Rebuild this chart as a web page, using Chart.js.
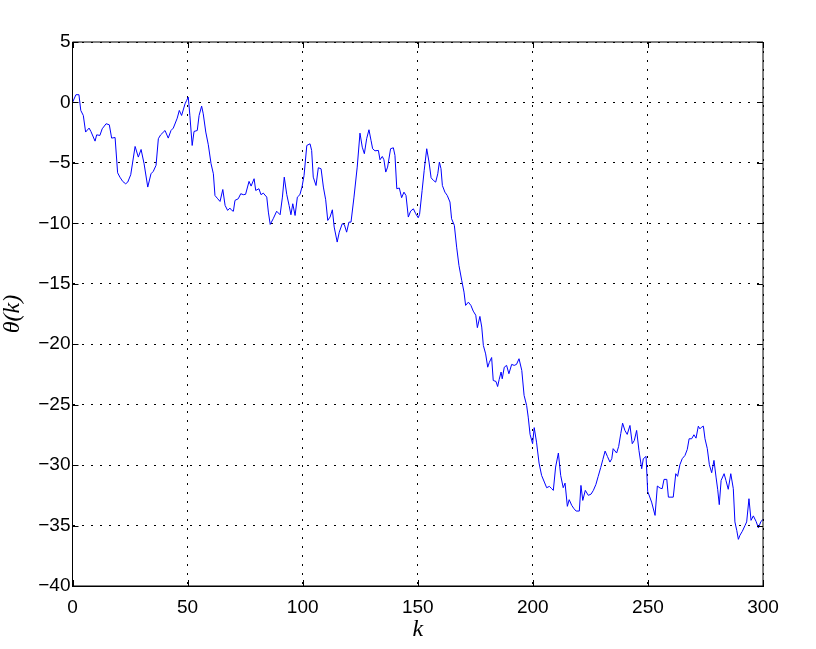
<!DOCTYPE html>
<html>
<head>
<meta charset="utf-8">
<script src="https://cdn.jsdelivr.net/npm/chart.js@4/dist/chart.umd.min.js"></script>
<style>
html,body{margin:0;padding:0;background:#fff;}
#wrap{width:816px;height:649px;position:relative;}
</style>
</head>
<body>
<div id="wrap"><canvas id="c" width="816" height="649"></canvas></div>
<script>
// k values (x axis)
const kValues = [
0,1.5,2.8,3.6,4.7,5.7,7.2,8.0,9.8,10.5,11.9,12.9,14.6,16.0,17.0,18.5,19.6,20.6,21.8,23.1,24.0,25.3,27.2,28.6,29.8,31.1,32.7,34.1,35.1,36.3,37.3,38.3,40.2,41.6,42.8,43.8,45.5,46.4,47.4,48.9,
49.6,50.3,51.0,52.0,52.8,54.2,55.0,56.1,56.8,57.9,59.0,60.2,61.2,61.9,63.1,64.1,65.3,66.3,67.4,68.4,69.2,69.9,70.6,72.0,73.1,74.2,75.2,76.7,77.6,78.9,79.6,81.0,81.9,82.9,84.4,85.1,85.9,87.2,88.7,90.2,91.2,92.0,93.1,94.1,94.9,95.7,96.7,97.7,98.8,99.7,
100.6,101.8,103.2,103.9,104.6,105.8,106.8,108.0,109.0,110.0,110.9,111.9,112.9,113.7,115.0,115.9,117.2,118.1,119.1,120.1,121.0,122.3,123.7,124.9,125.9,126.8,127.8,128.8,129.7,130.4,131.4,132.9,133.6,134.6,135.3,136.1,136.9,138.2,139.4,140.1,140.9,142.0,143.0,144.0,144.9,145.9,146.9,148.1,149.1,150.2,
150.8,151.9,152.8,153.9,154.9,155.8,156.8,157.8,158.7,159.4,160.1,160.7,161.8,162.8,164.0,164.7,165.9,166.9,167.9,169.1,170.1,170.8,172.0,173.1,174.1,175.2,175.9,177.0,177.8,178.5,179.5,180.4,181.1,182.1,182.8,184.0,184.7,185.4,186.2,186.7,187.6,188.6,189.6,190.8,191.9,192.9,194.0,195.2,196.2,197.3,198.0,198.8,
199.9,200.6,201.6,202.7,203.8,205.0,206.0,207.2,208.2,208.9,209.9,211.1,212.1,213.2,214.0,215.0,215.8,216.9,217.9,218.8,220.2,220.9,221.7,222.8,224.1,225.3,226.3,227.4,228.4,229.5,230.4,231.4,232.4,233.5,234.3,234.9,236.4,237.3,238.2,239.0,240.0,241.0,242.2,243.2,244.1,245.1,246.1,247.3,248.0,249.2,
249.9,251.6,253.1,254.1,255.3,256.2,257.0,258.2,258.9,260.0,261.0,262.1,262.9,263.9,264.9,266.1,267.1,267.9,269.0,270.0,270.9,271.9,272.6,273.3,274.1,274.8,275.8,276.7,277.7,278.7,279.6,280.3,281.0,281.8,283.1,283.9,284.9,286.0,287.1,287.8,288.6,289.3,290.0,291.0,292.2,292.9,293.9,294.8,295.8,297.0,298.0,299.1,300
];
// theta(k) values
const thetaValues = [
0.0,0.64,0.64,-0.66,-1.08,-2.45,-2.12,-2.4,-3.2,-2.68,-2.73,-2.18,-1.76,-1.85,-2.95,-2.9,-5.82,-6.18,-6.53,-6.73,-6.59,-5.98,-3.64,-4.52,-3.89,-5.07,-7.0,-5.9,-5.7,-5.2,-3.0,-2.68,-2.32,-2.95,-2.32,-2.12,-1.3,-0.66,-1.08,-0.11,
0.17,0.44,-1.08,-3.56,-2.4,-2.32,-1.08,-0.3,-0.94,-2.45,-3.5,-5.07,-5.9,-7.7,-7.97,-8.19,-7.2,-8.52,-8.93,-8.74,-8.93,-9.0,-8.1,-7.97,-7.55,-7.63,-7.6,-6.53,-6.92,-6.31,-7.28,-7.14,-7.63,-7.5,-7.83,-9.07,-10.09,-9.62,-9.0,-9.29,-7.83,-6.18,-7.63,-8.52,-9.29,-8.38,-9.35,-7.83,-7.63,-7.0,
-6.04,-3.56,-3.42,-3.97,-6.18,-6.87,-5.4,-5.49,-7.0,-8.05,-9.76,-9.48,-8.88,-10.31,-11.55,-10.73,-10.03,-10.1,-10.73,-9.9,-9.9,-7.83,-5.35,-2.54,-3.7,-4.24,-3.0,-2.26,-3.14,-3.83,-4.0,-3.97,-4.74,-4.47,-4.74,-5.76,-5.35,-3.83,-3.75,-4.38,-7.14,-7.08,-7.88,-7.42,-7.7,-9.48,-8.99,-8.8,-9.2,-9.54,
-9.26,-7.28,-5.62,-3.83,-4.93,-6.23,-6.45,-6.59,-5.9,-4.93,-5.48,-6.87,-7.42,-7.69,-8.24,-9.62,-10.17,-11.97,-13.48,-14.72,-15.69,-16.79,-16.52,-16.79,-17.26,-17.6,-18.63,-17.7,-18.58,-20.1,-20.8,-21.9,-21.5,-21.1,-23.0,-23.08,-23.5,-22.9,-22.3,-22.86,-21.9,-21.75,-22.44,-21.67,-21.75,-21.67,-21.2,-22.17,-24.23,-25.06,-26.03,-27.46,
-28.23,-26.9,-28.1,-29.83,-30.85,-31.4,-31.87,-31.76,-31.95,-32.09,-30.16,-29.0,-30.85,-31.87,-31.49,-33.41,-32.86,-33.33,-33.61,-33.8,-33.8,-31.68,-32.92,-32.09,-32.5,-32.4,-32.09,-31.6,-30.93,-30.2,-29.55,-28.84,-29.28,-29.75,-29.47,-28.64,-29.0,-28.45,-27.4,-26.53,-27.13,-27.46,-26.72,-28.23,-27.96,-27.13,-28.78,-30.3,-29.47,-29.28,
-32.17,-33.06,-34.16,-31.73,-31.9,-31.95,-31.18,-31.18,-32.65,-32.65,-32.65,-30.71,-30.93,-29.97,-29.47,-29.2,-28.7,-27.82,-27.82,-27.49,-27.77,-26.78,-27.0,-26.86,-26.78,-27.82,-28.64,-29.97,-30.63,-29.61,-30.99,-32.0,-33.27,-31.27,-30.71,-31.27,-32.0,-30.71,-31.95,-34.7,-35.4,-36.14,-35.8,-35.48,-34.99,-34.7,-32.78,-34.57,-34.2,-34.66,-35.2,-34.66,-34.5
];
// tick labels
const xTicks = [0,50,100,150,200,250,300];
const yTicks = [5,0,-5,-10,-15,-20,-25,-30,-35,-40];
const xTitle = 'k';
const yTitle = 'θ(k)';

const fmt = v => (v < 0 ? '\u2212' + Math.abs(v) : String(v));

const boxAndTicks = {
  id: 'boxAndTicks',
  afterDraw(chart) {
    const {ctx, chartArea: a, scales: {x, y}} = chart;
    ctx.save();
    ctx.strokeStyle = '#000';
    ctx.lineWidth = 1;
    ctx.setLineDash([]);
    ctx.beginPath();
    ctx.rect(a.left, a.top, a.right - a.left, a.bottom - a.top);
    const tl = 6;
    xTicks.forEach(v => {
      const px = Math.round(x.getPixelForValue(v)) + 0.5;
      ctx.moveTo(px, a.bottom); ctx.lineTo(px, a.bottom - tl);
      ctx.moveTo(px, a.top); ctx.lineTo(px, a.top + tl);
    });
    yTicks.forEach(v => {
      const py = Math.round(y.getPixelForValue(v)) + 0.5;
      ctx.moveTo(a.left, py); ctx.lineTo(a.left + tl, py);
      ctx.moveTo(a.right, py); ctx.lineTo(a.right - tl, py);
    });
    ctx.stroke();
    ctx.restore();
  }
};

new Chart(document.getElementById('c'), {
  type: 'line',
  data: {
    datasets: [{
      data: kValues.map((k, i) => ({x: k, y: thetaValues[i]})),
      borderColor: '#0000ff',
      borderWidth: 1,
      pointRadius: 0,
      tension: 0,
      fill: false
    }]
  },
  plugins: [boxAndTicks],
  options: {
    responsive: false,
    animation: false,
    events: [],
    layout: {padding: {left: 0, top: 42, right: 53, bottom: 0}},
    plugins: {legend: {display: false}, tooltip: {enabled: false}},
    scales: {
      x: {
        type: 'linear', min: 0, max: 300,
        afterBuildTicks: s => { s.ticks = xTicks.map(v => ({value: v})); },
        afterFit: s => { s.height = 63; },
        ticks: {callback: v => fmt(v), color: '#000', padding: 10, maxRotation: 0,
                font: {family: 'Liberation Sans', size: 19}},
        grid: {color: '#000', lineWidth: 1, drawTicks: false},
        border: {display: true, color: '#000', width: 1, dash: [2, 7]},
        title: {display: true, text: xTitle, color: '#000',
                font: {family: 'Liberation Serif', size: 24, style: 'italic'},
                padding: {top: 0, bottom: 5}}
      },
      y: {
        type: 'linear', min: -40, max: 5,
        afterBuildTicks: s => { s.ticks = yTicks.map(v => ({value: v})); },
        afterFit: s => { s.width = 72.5; },
        ticks: {callback: v => fmt(v), color: '#000', padding: 2,
                font: {family: 'Liberation Sans', size: 19}},
        grid: {color: '#000', lineWidth: 1, drawTicks: false},
        border: {display: true, color: '#000', width: 1, dash: [2, 7]},
        title: {display: true, text: yTitle, color: '#000',
                font: {family: 'Liberation Serif', size: 24, style: 'italic'},
                padding: {top: -2, bottom: 0}}
      }
    }
  }
});
</script>
</body>
</html>
